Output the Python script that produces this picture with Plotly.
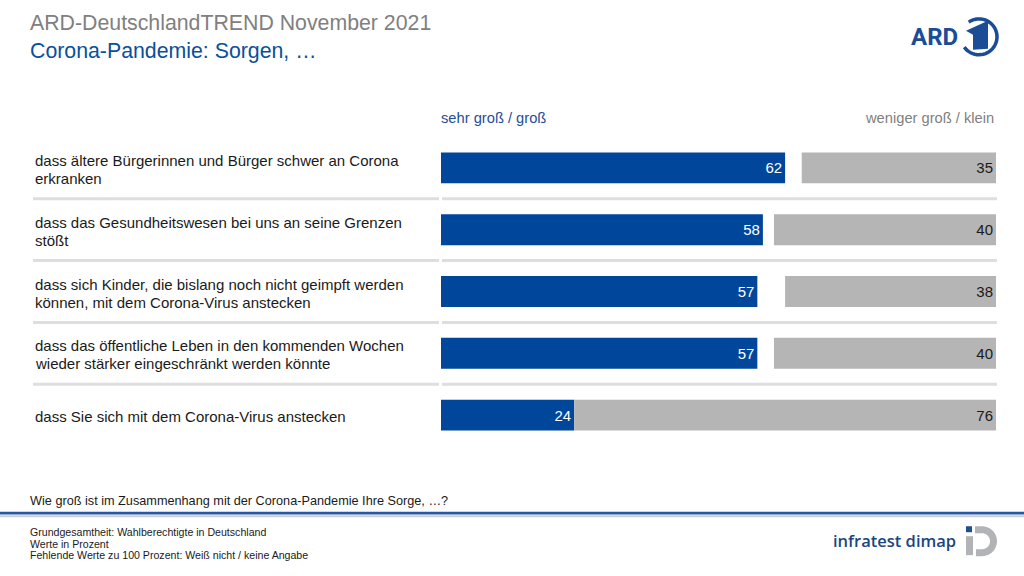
import numpy as np
import plotly.graph_objects as go

# ---------------- data ----------------
categories = [
    "dass ältere Bürgerinnen und Bürger schwer an Corona<br>erkranken",
    "dass das Gesundheitswesen bei uns an seine Grenzen<br>stößt",
    "dass sich Kinder, die bislang noch nicht geimpft werden<br>können, mit dem Corona-Virus anstecken",
    "dass das öffentliche Leben in den kommenden Wochen<br>wieder stärker eingeschränkt werden könnte",
    "dass Sie sich mit dem Corona-Virus anstecken",
]
sehr_gross = [62, 58, 57, 57, 24]
weniger_gross = [35, 40, 38, 40, 76]
series_names = ["sehr groß / groß", "weniger groß / klein"]

title = "ARD-DeutschlandTREND November 2021"
subtitle = "Corona-Pandemie: Sorgen, …"
question = "Wie groß ist im Zusammenhang mit der Corona-Pandemie Ihre Sorge, …?"
footnotes = [
    "Grundgesamtheit: Wahlberechtigte in Deutschland",
    "Werte in Prozent",
    "Fehlende Werte zu 100 Prozent: Weiß nicht / keine Angabe",
]

# ---------------- styling / layout helpers ----------------
BLUE = "#00469b"
GREY = "#b5b5b5"
FONT = "Liberation Sans, Arial, sans-serif"
W_FIG, H_FIG = 1024, 576
L, PW = 441, 555
T, PH = 136.5, 310


def px(x):
    return (x - L) / PW


def py(y):
    return (T + PH - y) / PH


def poly(points, close=True):
    s = "M " + " L ".join(f"{px(a):.5f},{py(b):.5f}" for a, b in points)
    return s + (" Z" if close else "")


def arc(cx, cy, r, a0, a1, n=40):
    ang = np.radians(np.linspace(a0, a1, n))
    return [(cx + r * np.cos(a), cy - r * np.sin(a)) for a in ang]


fig = go.Figure()
fig.add_trace(go.Bar(
    y=categories, x=sehr_gross, orientation="h", width=0.5,
    marker=dict(color=BLUE, line=dict(width=0)), name=series_names[0],
    text=[str(v) for v in sehr_gross], textposition="inside",
    insidetextanchor="end", textangle=0,
    textfont=dict(color="white", size=15, family=FONT),
    hoverinfo="skip",
))
fig.add_trace(go.Bar(
    y=categories, x=weniger_gross, base=[100 - v for v in weniger_gross],
    orientation="h", width=0.5,
    marker=dict(color=GREY, line=dict(width=0)), name=series_names[1],
    text=[str(v) for v in weniger_gross], textposition="inside",
    insidetextanchor="end", textangle=0,
    textfont=dict(color="#1a1a1a", size=15, family=FONT),
    hoverinfo="skip",
))

shapes = []
# row separators
for i in range(len(categories) - 1):
    for x0, x1 in [(33, 439), (442, 997)]:
        shapes.append(dict(type="line", xref="paper", yref="y",
                           x0=px(x0), x1=px(x1), y0=i + 0.5, y1=i + 0.5,
                           line=dict(color="#dedede", width=3)))
# footer lines
shapes.append(dict(type="line", xref="paper", yref="paper", x0=px(0), x1=px(1024),
                   y0=py(513.8), y1=py(513.8), line=dict(color="#2858a4", width=2.6)))
shapes.append(dict(type="line", xref="paper", yref="paper", x0=px(0), x1=px(1024),
                   y0=py(517), y1=py(517), line=dict(color="#c9ced4", width=2)))
# ARD logo ring + "1"
shapes.append(dict(type="path", xref="paper", yref="paper",
                   path=poly(arc(979, 36, 18, 125, -145), close=False),
                   line=dict(color="#1b4c96", width=3.5)))
shapes.append(dict(type="path", xref="paper", yref="paper",
                   path=poly([(966, 30), (988, 20), (988, 48), (973, 49), (973, 34)]),
                   fillcolor="#1b4c96", line=dict(width=0)))
# infratest dimap icon
shapes.append(dict(type="rect", xref="paper", yref="paper",
                   x0=px(966), x1=px(972), y0=py(533), y1=py(527),
                   fillcolor="#1d4f91", line=dict(width=0)))
shapes.append(dict(type="rect", xref="paper", yref="paper",
                   x0=px(966), x1=px(973), y0=py(556), y1=py(537),
                   fillcolor="#b1b3b6", line=dict(width=0)))
d_pts = [(975, 527)] + arc(982, 542, 15, 90, -90) + [(976, 557), (976, 550)] + arc(982, 542, 8, -90, 90) + [(975, 534)]
shapes.append(dict(type="path", xref="paper", yref="paper", path=poly(d_pts),
                   fillcolor="#b1b3b6", line=dict(width=0)))

annotations = []
LINE_H = 18
for c in categories:
    lines = c.split("<br>")
    n = len(lines)
    for k, ln in enumerate(lines):
        off = (k - (n - 1) / 2) * LINE_H + 1.5
        annotations.append(dict(x=px(33), y=c, xref="paper", yref="y", text=ln,
                                xanchor="left", yanchor="middle", align="left",
                                yshift=-off, showarrow=False,
                                font=dict(size=15, color="#1a1a1a", family=FONT)))


def note(x, y, text, size, color, xanchor="left", family=FONT, weight=None):
    f = dict(size=size, color=color, family=family)
    if weight:
        f["weight"] = weight
    annotations.append(dict(x=px(x), y=py(y), xref="paper", yref="paper", text=text,
                            xanchor=xanchor, yanchor="middle", showarrow=False,
                            align="left", font=f))


note(28, 22, title, 21.3, "#808080")
note(28, 50, subtitle, 21.3, "#0a4f9c")
note(439, 117, series_names[0], 14.7, "#1f4e96")
note(996, 117, series_names[1], 14.7, "#7f7f7f", xanchor="right")
note(28, 502, question, 12.7, "#1a1a1a")
for i, t in enumerate(footnotes):
    note(28, 533 + i * 11.5, t, 10.6, "#1a1a1a")
note(960, 36, "ARD", 24, "#1b4c96", xanchor="right", family="Roboto", weight="bold")
note(958, 541, "infratest dimap", 16.5, "#1c4580", xanchor="right", family="Open Sans", weight=600)

fig.update_layout(
    width=W_FIG, height=H_FIG,
    margin=dict(l=L, r=W_FIG - L - PW, t=T, b=H_FIG - T - PH, pad=0),
    paper_bgcolor="white", plot_bgcolor="white",
    barmode="overlay", showlegend=False,
    xaxis=dict(range=[0, 100], visible=False, fixedrange=True),
    yaxis=dict(type="category", categoryarray=categories, range=[4.5, -0.5],
               visible=False, fixedrange=True),
    shapes=shapes, annotations=annotations,
    font=dict(family=FONT),
)

fig.write_html("out.html", config={"displayModeBar": False},
               post_script="document.body.style.margin='0';document.body.style.overflow='hidden';")
